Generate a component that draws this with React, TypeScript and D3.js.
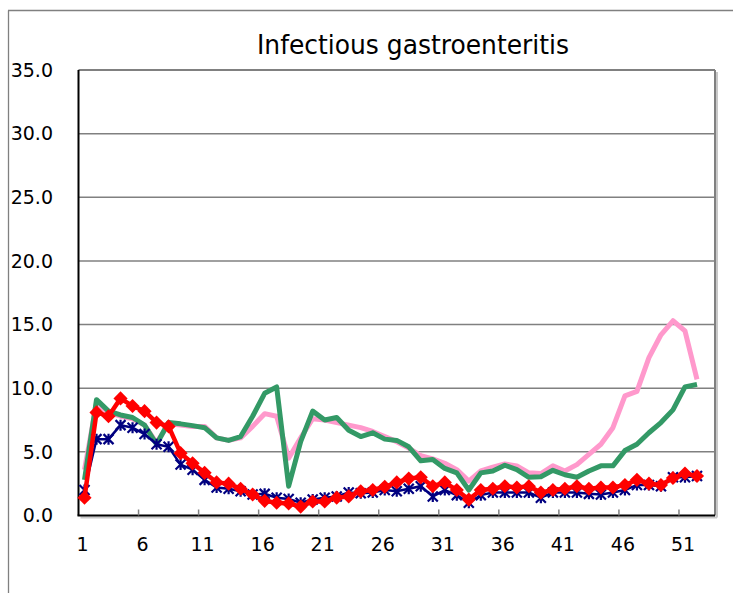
import React from "react";
import * as d3 from "d3";

const weeks: number[] = d3.range(1, 54);
const tickLabels: number[] = [1, 6, 11, 16, 21, 26, 31, 36, 41, 46, 51];
const yTicks: number[] = [0, 5, 10, 15, 20, 25, 30, 35];

const pinkSeries: number[] = [
  3.6, 8.8, 8.1, 7.8, 7.6, 7.1, 5.7, 7.2, 7.1, 7.0, 7.0, 6.1, 5.9, 6.1, 7.0, 8.0,
  7.8, 4.5, 6.1, 7.6, 7.5, 7.3, 7.1, 6.9, 6.6, 6.2, 5.8, 5.3, 4.7, 4.45, 4.1, 3.6,
  2.7, 3.5, 3.8, 4.05, 3.9, 3.35, 3.3, 3.9, 3.5, 4.0, 4.8, 5.6, 6.9, 9.4, 9.75, 12.4,
  14.2, 15.3, 14.5, 10.7,
];
const greenSeries: number[] = [
  2.8, 9.1, 8.2, 7.9, 7.7, 7.1, 5.6, 7.3, 7.2, 7.06, 6.9, 6.1, 5.9, 6.2, 7.8, 9.6,
  10.1, 2.3, 5.8, 8.2, 7.5, 7.7, 6.7, 6.2, 6.5, 6.0, 5.9, 5.4, 4.3, 4.4, 3.7, 3.35,
  2.0, 3.35, 3.5, 3.95, 3.6, 3.0, 3.05, 3.55, 3.2, 3.0, 3.5, 3.9, 3.9, 5.1, 5.6, 6.5,
  7.3, 8.3, 10.1, 10.3,
];
const blueSeries: number[] = [
  2.0, 6.0, 6.0, 7.1, 6.9, 6.4, 5.6, 5.4, 4.0, 3.6, 2.8, 2.2, 2.1, 1.9, 1.65, 1.7,
  1.4, 1.3, 1.0, 1.25, 1.4, 1.5, 1.8, 1.75, 1.8, 2.0, 1.9, 2.1, 2.3, 1.5, 2.0, 1.6,
  1.0, 1.6, 1.8, 1.8, 1.8, 1.8, 1.4, 1.8, 1.8, 1.8, 1.7, 1.65, 1.8, 2.0, 2.4, 2.4,
  2.3, 3.0, 3.0, 3.1,
];
const redSeries: number[] = [
  1.4, 8.1, 7.8, 9.2, 8.6, 8.2, 7.3, 7.0, 4.9, 4.1, 3.35, 2.6, 2.5, 2.1, 1.65, 1.15,
  1.0, 0.95, 0.7, 1.1, 1.1, 1.4, 1.5, 1.9, 2.0, 2.25, 2.6, 2.9, 3.0, 2.3, 2.6, 2.0,
  1.25, 2.0, 2.1, 2.3, 2.2, 2.3, 1.8, 2.0, 2.1, 2.3, 2.1, 2.2, 2.2, 2.4, 2.8, 2.5,
  2.4, 2.95, 3.3, 3.1,
];

const W = 733;
const H = 593;
const PL = 78.5;
const PR = 715;
const PT = 70;
const PB = 515.5;
const FONT = "'DejaVu Sans', sans-serif";

export default function App() {
  const x = d3.scaleBand<number>().domain(weeks).range([PL, PR]).padding(0);
  const bw = x.bandwidth();
  const cx = (w: number) => (x(w) as number) + bw / 2;
  const y = d3.scaleLinear().domain([0, 35]).range([PB, PT]);

  const line = d3
    .line<number>()
    .x((_, i) => cx(i + 1))
    .y((d) => y(d));

  const diamond = d3.symbol().type(d3.symbolSquare).size(100)() as string;
  const star = "M-5,-5L5,5M-5,5L5,-5M0,-5.5L0,5.5";

  const boundaryTicks = weeks.filter((w) => (w - 1) % 5 === 0 && w > 1).map((w) => x(w) as number);

  return (
    <svg
      width={W}
      height={H}
      style={{ position: "absolute", left: 0, top: 0, background: "#fff" }}
      fontFamily={FONT}
    >
      {/* outer frame */}
      <line x1={8.5} y1={10.5} x2={8.5} y2={H} stroke="#808080" strokeWidth={1.3} />
      <line x1={8} y1={10.5} x2={W} y2={10.5} stroke="#808080" strokeWidth={1.3} />

      {/* title */}
      <text
        x={413}
        y={54}
        textAnchor="middle"
        fontSize={26}
        fill="#000"
        textLength={312}
        lengthAdjust="spacingAndGlyphs"
      >
        Infectious gastroenteritis
      </text>

      {/* gridlines */}
      {yTicks
        .filter((t) => t > 0 && t < 35)
        .map((t) => (
          <line key={t} x1={PL} x2={PR} y1={y(t)} y2={y(t)} stroke="#808080" strokeWidth={1.5} />
        ))}

      {/* plot frame: shadow, top, right */}
      <line x1={PR + 2} y1={PT + 2} x2={PR + 2} y2={PB + 2} stroke="#c8c8c8" strokeWidth={2} />
      <line x1={PL + 2} y1={PB + 2} x2={PR + 2} y2={PB + 2} stroke="#c8c8c8" strokeWidth={2} />
      <line x1={PL} y1={PT} x2={PR} y2={PT} stroke="#808080" strokeWidth={2} />
      <line x1={PR} y1={PT} x2={PR} y2={PB} stroke="#808080" strokeWidth={2} />

      {/* axes */}
      <line x1={PL} y1={PT} x2={PL} y2={PB} stroke="#000" strokeWidth={2} />
      <line x1={PL - 1} y1={PB} x2={PR} y2={PB} stroke="#000" strokeWidth={2} />
      {boundaryTicks.map((bx, i) => (
        <line key={i} x1={bx} x2={bx} y1={PB} y2={PB - 6} stroke="#808080" strokeWidth={1.5} />
      ))}

      {/* y labels */}
      {yTicks.map((t) => (
        <text key={t} x={53} y={y(t)} dy="0.36em" textAnchor="end" fontSize={19} fill="#000">
          {t.toFixed(1)}
        </text>
      ))}

      {/* x labels */}
      {tickLabels.map((w) => (
        <text key={w} x={cx(w) - 2} y={551} textAnchor="middle" fontSize={19} fill="#000">
          {w}
        </text>
      ))}

      {/* series */}
      <path d={line(pinkSeries) as string} fill="none" stroke="#FF99CC" strokeWidth={5} strokeLinejoin="round" />
      <path d={line(greenSeries) as string} fill="none" stroke="#339966" strokeWidth={5} strokeLinejoin="round" />
      <path d={line(blueSeries) as string} fill="none" stroke="#000080" strokeWidth={2.5} />
      {blueSeries.map((v, i) => (
        <path
          key={i}
          d={star}
          transform={`translate(${cx(i + 1)},${y(v)})`}
          stroke="#000080"
          strokeWidth={2.2}
          fill="none"
        />
      ))}
      <path d={line(redSeries) as string} fill="none" stroke="#FF0000" strokeWidth={4.5} />
      {redSeries.map((v, i) => (
        <path
          key={i}
          d={diamond}
          transform={`translate(${cx(i + 1)},${y(v)}) rotate(45)`}
          fill="#FF0000"
        />
      ))}
    </svg>
  );
}
